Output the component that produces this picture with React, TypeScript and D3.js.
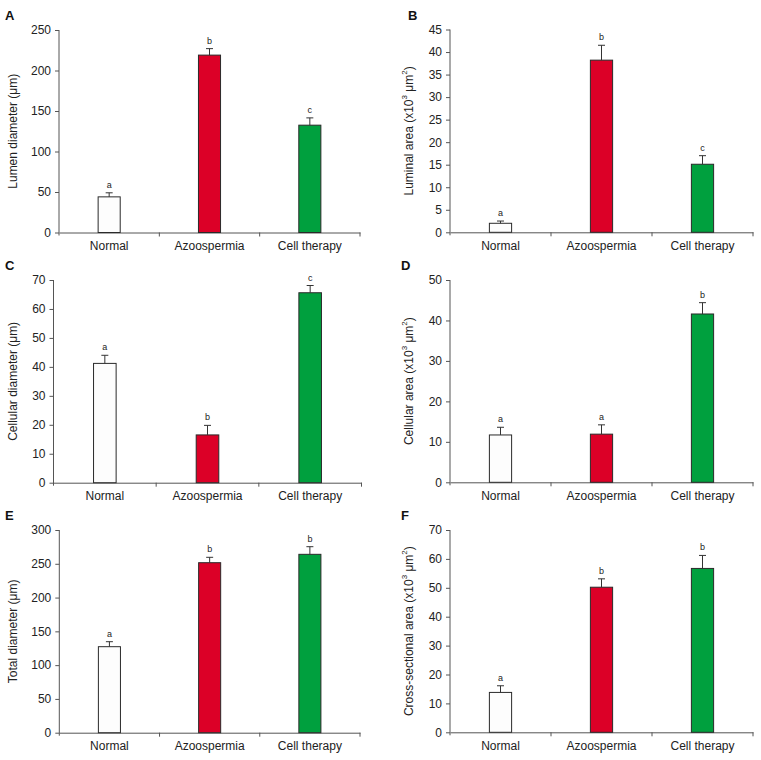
import React, { useEffect, useRef } from 'react';
import * as d3 from 'd3';

const groups = ['Normal', 'Azoospermia', 'Cell therapy'];
const barColors = ['#fdfdfd', '#dc0027', '#00a03e'];

// means and upper error (SEM)
const lumenDiameter = [44, 219, 132.5];
const lumenDiameterErr = [5, 8, 9];
const lumenDiameterSig = ['a', 'b', 'c'];

const luminalArea = [2.0, 38.2, 15.1];
const luminalAreaErr = [0.5, 3.3, 1.9];
const luminalAreaSig = ['a', 'b', 'c'];

const cellularDiameter = [41.2, 16.5, 65.6];
const cellularDiameterErr = [2.8, 3.3, 2.5];
const cellularDiameterSig = ['a', 'b', 'c'];

const cellularArea = [11.7, 11.9, 41.6];
const cellularAreaErr = [1.9, 2.3, 2.8];
const cellularAreaSig = ['a', 'a', 'b'];

const totalDiameter = [127.3, 251.6, 264];
const totalDiameterErr = [7.4, 8, 11.3];
const totalDiameterSig = ['a', 'b', 'b'];

const crossArea = [13.8, 50.2, 56.7];
const crossAreaErr = [2.3, 2.9, 4.5];
const crossAreaSig = ['a', 'b', 'b'];

const FONT = '"Liberation Sans", Arial, sans-serif';

const panels = [
  { tag: 'A', values: lumenDiameter, err: lumenDiameterErr, sig: lumenDiameterSig, max: 250, step: 50,
    label: ['Lumen diameter (\u03bcm)'], left: 59, right: 360, top: 30, bottom: 232.5, tagX: 5, labelX: 13 },
  { tag: 'B', values: luminalArea, err: luminalAreaErr, sig: luminalAreaSig, max: 45, step: 5,
    label: ['Luminal area (x10', '3', ' \u03bcm', '2', ')'], left: 450, right: 753, top: 29.5, bottom: 232.3, tagX: 408, labelX: 409 },
  { tag: 'C', values: cellularDiameter, err: cellularDiameterErr, sig: cellularDiameterSig, max: 70, step: 10,
    label: ['Cellular diameter (\u03bcm)'], left: 53.5, right: 361.5, top: 280, bottom: 482.7, tagX: 5, labelX: 13 },
  { tag: 'D', values: cellularArea, err: cellularAreaErr, sig: cellularAreaSig, max: 50, step: 10,
    label: ['Cellular area (x10', '3', ' \u03bcm', '2', ')'], left: 450, right: 753, top: 280, bottom: 482.3, tagX: 401, labelX: 409 },
  { tag: 'E', values: totalDiameter, err: totalDiameterErr, sig: totalDiameterSig, max: 300, step: 50,
    label: ['Total diameter (\u03bcm)'], left: 59.3, right: 360, top: 530, bottom: 732.7, tagX: 5, labelX: 13 },
  { tag: 'F', values: crossArea, err: crossAreaErr, sig: crossAreaSig, max: 70, step: 10,
    label: ['Cross-sectional area (x10', '3', ' \u03bcm', '2', ')'], left: 450, right: 753, top: 530, bottom: 732.3, tagX: 401, labelX: 409 },
];

function App() {
  const svgRef = useRef(null);

  useEffect(() => {
    const svg = d3.select(svgRef.current);
    svg.selectAll('*').remove();

    panels.forEach(p => {
      const g = svg.append('g');

      const x = d3.scaleBand().domain(groups).range([p.left, p.right]);
      const y = d3.scaleLinear().domain([0, p.max]).range([p.bottom, p.top]);
      const barW = x.bandwidth() * 0.22;

      // panel tag
      g.append('text')
        .attr('x', p.tagX).attr('y', p.top - 10)
        .attr('font-family', FONT).attr('font-size', 13).attr('font-weight', 'bold')
        .attr('fill', '#111')
        .text(p.tag);

      // y axis
      const yAxis = g.append('g')
        .attr('transform', `translate(${p.left},0)`)
        .call(d3.axisLeft(y).tickValues(d3.range(0, p.max + p.step / 2, p.step)).tickSize(4).tickSizeOuter(0).tickPadding(4));
      yAxis.select('.domain').attr('stroke', '#555').attr('d', `M0,${p.top}V${p.bottom + 3}`);
      yAxis.selectAll('.tick line').attr('stroke', '#555');
      yAxis.selectAll('.tick text').attr('font-family', FONT).attr('font-size', 12).attr('fill', '#222');

      // x axis
      const xAxis = g.append('g')
        .attr('transform', `translate(0,${p.bottom})`)
        .call(d3.axisBottom(x).tickSize(0).tickSizeOuter(0).tickPadding(9));
      xAxis.select('.domain').attr('stroke', '#555');
      xAxis.selectAll('.tick text').attr('font-family', FONT).attr('font-size', 12).attr('fill', '#222');
      xAxis.selectAll('.sep')
        .data(groups)
        .enter()
        .append('line')
        .attr('class', 'sep')
        .attr('x1', d => x(d) + x.bandwidth()).attr('x2', d => x(d) + x.bandwidth())
        .attr('y1', 0).attr('y2', 4)
        .attr('stroke', '#555');

      // bars
      g.selectAll('.bar')
        .data(p.values)
        .enter()
        .append('rect')
        .attr('class', 'bar')
        .attr('x', (d, i) => x(groups[i]) + x.bandwidth() / 2 - barW / 2)
        .attr('y', d => y(d))
        .attr('width', barW)
        .attr('height', d => p.bottom - y(d))
        .attr('fill', (d, i) => barColors[i])
        .attr('stroke', '#2a2a2a')
        .attr('stroke-width', 1);

      // error bars (upper only)
      const cx = i => x(groups[i]) + x.bandwidth() / 2;
      p.values.forEach((v, i) => {
        const top = y(v + p.err[i]);
        g.append('line')
          .attr('x1', cx(i)).attr('x2', cx(i))
          .attr('y1', y(v)).attr('y2', top)
          .attr('stroke', '#333');
        g.append('line')
          .attr('x1', cx(i) - 3.5).attr('x2', cx(i) + 3.5)
          .attr('y1', top).attr('y2', top)
          .attr('stroke', '#333');
        g.append('text')
          .attr('x', cx(i)).attr('y', top - 5)
          .attr('text-anchor', 'middle')
          .attr('font-family', FONT).attr('font-size', 9).attr('fill', '#222')
          .text(p.sig[i]);
      });

      // y label
      const cy = (p.top + p.bottom) / 2;
      const lab = g.append('text')
        .attr('transform', `translate(${p.labelX},${cy}) rotate(-90)`)
        .attr('text-anchor', 'middle')
        .attr('dominant-baseline', 'central')
        .attr('font-family', FONT).attr('font-size', 12).attr('fill', '#222');
      p.label.forEach((part, k) => {
        const sup = k % 2 === 1;
        lab.append('tspan')
          .attr('font-size', sup ? 8 : 12)
          .attr('baseline-shift', sup ? '55%' : null)
          .text(part);
      });
    });
  }, []);

  return (
    <svg ref={svgRef} width={761} height={760}
      style={{ position: 'absolute', left: 0, top: 0, background: '#fff' }}></svg>
  );
}

export default App;
